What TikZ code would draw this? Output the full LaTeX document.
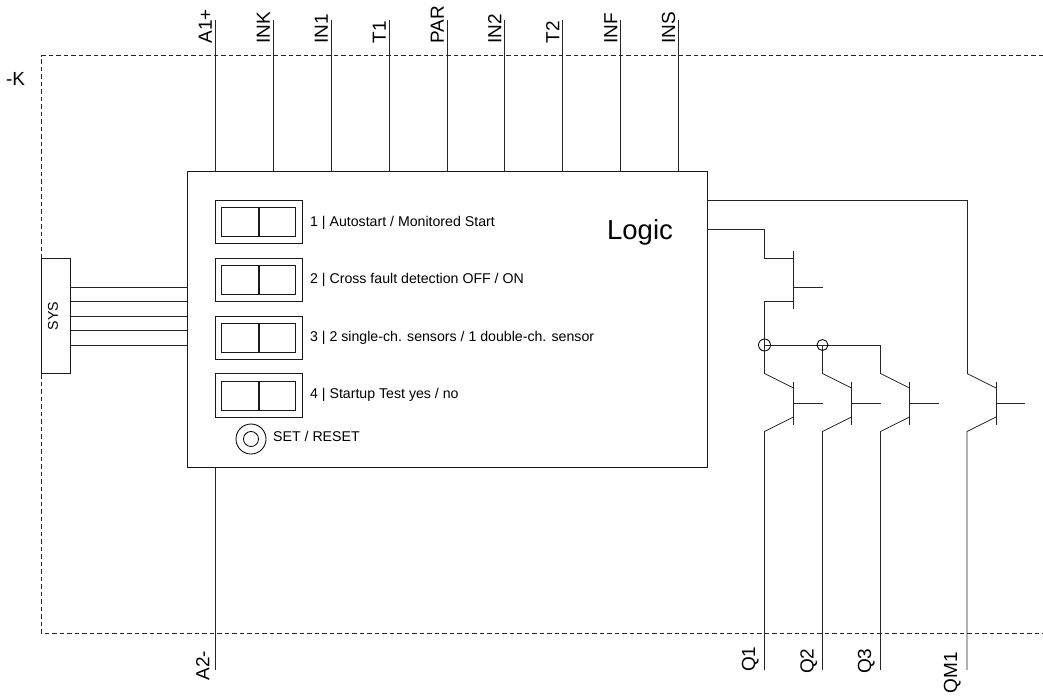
\documentclass[tikz,border=0pt]{standalone}
\usepackage{fontspec}
\setmainfont{Liberation Sans}
\tikzset{
  wire/.style={draw=black!85,line width=0.85pt},
  frameline/.style={draw=black!85,line width=0.85pt,dash pattern=on 4.5pt off 3pt},
  plainbox/.style={draw=black!90,line width=0.85pt,fill=white,inner sep=0pt,minimum width=#1},
  pinlabel/.style={font=\fontsize{19}{19}\selectfont,rotate=90,inner sep=0pt},
  caption/.style={font=\fontsize{14.15}{16}\selectfont,anchor=west,inner sep=0pt},
  junction/.style={circle,draw=black,line width=0.85pt,inner sep=0pt,minimum size=#1}
}
\begin{document}
\begin{tikzpicture}[x=1pt,y=-1pt]
\useasboundingbox (0,0) rectangle (1043,697);
% frame
\coordinate (fa) at (1043,55.5);
\coordinate (fb) at (41.5,55.5);
\coordinate (fc) at (41.5,633.5);
\coordinate (fd) at (1043,633.5);
\draw[frameline] (fa) -- (fb) -- (fc) -- (fd);
\node[inner sep=0pt,font=\fontsize{19}{19}\selectfont] (klabel) at (15.5,78.5) {-K};
% logic box
\node[plainbox=520.5pt,minimum height=296pt,anchor=north west] (logic) at (186.5,171) {};
\node[inner sep=0pt,font=\fontsize{27.5}{28}\selectfont] (logictext) at (640,232) {Logic};
% top pins
\foreach \n/\x/\t in {a/215/A1+,b/273/INK,c/331/IN1,d/389/T1,e/447/PAR,f/504.5/IN2,g/562.5/T2,h/620.5/INF,i/678.5/INS}{
  \coordinate (top\n) at (\x,20);
  \draw[wire] (top\n) -- (top\n |- logic.north);
  \node[pinlabel,anchor=south west] (lab\n) at (\x-3,43.5) {\t};
}
% A2-
\coordinate (botA) at (215,670);
\draw[wire] (botA |- logic.south) -- (botA);
\node[pinlabel,anchor=south west] (labA2) at (209.5,680.5) {A2-};
% switches
\foreach \n/\y/\c/\t in {1/222/223/{1 | Autostart / Monitored Start},2/280/280/{2 | Cross fault detection OFF / ON},3/338/338/{3 | 2 single-ch. sensors / 1 double-ch. sensor},4/395.5/394.5/{4 | Startup Test yes / no}}{
  \node[plainbox=87pt,minimum height=43.5pt] (sw\n) at (258.5,\y) {};
  \node[plainbox=36.5pt,minimum height=29pt,anchor=east] (swl\n) at (258.5,\y) {};
  \node[plainbox=36.5pt,minimum height=29pt,anchor=west] (swr\n) at (258.5,\y) {};
  \node[caption] (cap\n) at (310,\c) {\t};
}
% set/reset
\node[junction=30pt] (setouter) at (251,439) {};
\node[junction=15pt] (setinner) at (251,439) {};
\node[caption] (settext) at (273,436) {SET / RESET};
% SYS
\node[plainbox=29pt,minimum height=115pt] (sys) at (56,316) {};
\node[rotate=90,inner sep=0pt,font=\fontsize{14.15}{16}\selectfont] (systext) at (53,316) {SYS};
\foreach \y in {287,301.5,316,330.5,345}{
  \draw[wire] (sys.east |- 0,\y) -- (logic.west |- 0,\y);
}
% bipolar transistors
\foreach \n/\x in {A/764.5,B/822.5,C/880.5,D/967}{
  \coordinate (col\n) at (\x,373.5);
  \coordinate (bas\n) at (\x+29,388);
  \coordinate (bast\n) at (\x+29,381.5);
  \coordinate (basb\n) at (\x+29,424.5);
  \coordinate (out\n) at (\x+58,403);
  \coordinate (em\n) at (\x+29,417);
  \coordinate (emk\n) at (\x,431.5);
  \coordinate (pin\n) at (\x,670);
  \draw[wire] (col\n) -- (bas\n);
  \draw[wire] (bast\n) -- (basb\n);
  \draw[wire] (out\n -| bas\n) -- (out\n);
  \draw[wire] (em\n) -- (emk\n) -- (pin\n);
}
% top field-effect transistor
\coordinate (fetgate) at (764.5,229.5);
\coordinate (fetd) at (793.5,258);
\coordinate (fets) at (793.5,301.5);
\coordinate (fett) at (793.5,251);
\coordinate (fetb) at (793.5,309);
\coordinate (fetout) at (822.5,287);
\draw[wire] (logic.east |- fetgate) -- (fetgate) |- (fetd);
\draw[wire] (fett) -- (fetb);
\draw[wire] (fetout -| fett) -- (fetout);
\draw[wire] (fets) -| (colA);
% common rail
\coordinate (railA) at (764.5,345);
\coordinate (railB) at (822.5,345);
\coordinate (railC) at (880.5,345);
\draw[wire] (railA) -- (railC) -- (colC);
\draw[wire] (railB) -- (colB);
\node[junction=12pt] (jA) at (railA) {};
\node[junction=11pt] (jB) at (railB) {};
% QM1 feed
\coordinate (qmtop) at (967,200.5);
\draw[wire] (logic.east |- qmtop) -- (qmtop) -- (colD);
% bottom labels
\node[pinlabel,anchor=south west] (labQa) at (759,672) {Q1};
\node[pinlabel,anchor=south west] (labQb) at (817.5,674) {Q2};
\node[pinlabel,anchor=south west] (labQc) at (875,674) {Q3};
\node[pinlabel,anchor=south west] (labQd) at (961,693.5) {QM1};
\end{tikzpicture}
\end{document}
